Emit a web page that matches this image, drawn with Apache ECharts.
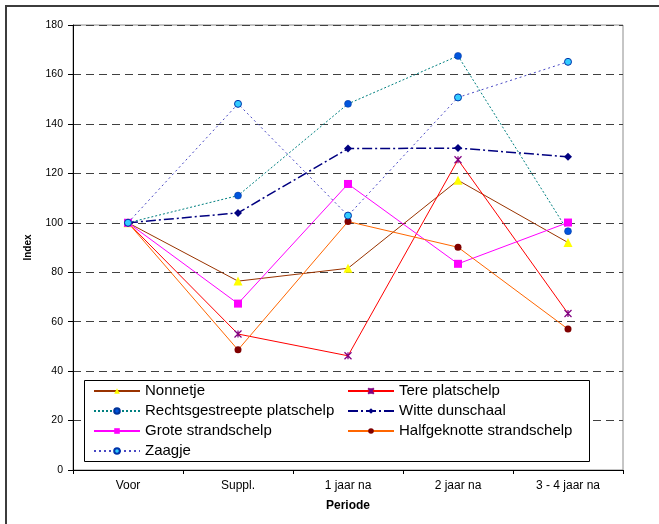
<!DOCTYPE html>
<html>
<head>
<meta charset="utf-8">
<script src="https://cdn.jsdelivr.net/npm/echarts@6/dist/echarts.min.js"></script>
<style>
  html, body { margin: 0; padding: 0; background: #ffffff; }
  #chart { width: 659px; height: 524px; }
</style>
</head>
<body>
<div id="chart"></div>
<script>
// Periods on the horizontal axis
const periodes = ['Voor', 'Suppl.', '1 jaar na', '2 jaar na', '3 - 4 jaar na'];

// Index per species (Voor = 100)
const nonnetje = [100, 76.4, 81.6, 117.2, 92.0];
const terePlatschelp = [100, 55.0, 46.2, 125.5, 63.3];
const rechtsgestreeptePlatschelp = [100, 111.0, 148.1, 167.5, 96.6];
const witteDunschaal = [100, 104.0, 130.0, 130.2, 126.7];
const groteStrandschelp = [100, 67.3, 115.7, 83.4, 100.1];
const halfgeknotteStrandschelp = [100, 48.6, 100.5, 90.1, 57.0];
const zaagje = [100, 148.1, 102.9, 150.7, 165.1];

// Y axis ticks
const yMin = 0, yMax = 180, yStep = 20;

const FONT = '"Liberation Sans", Arial, sans-serif';
const STAR = 'path://M0,0L10,10M10,0L0,10M5,0L5,10';

function lineSeries(name, data, line, marker) {
  return {
    name: name,
    type: 'line',
    data: data,
    symbol: marker.symbol,
    symbolSize: marker.size,
    showAllSymbol: true,
    lineStyle: { color: line.color, width: line.width || 1, type: line.type || 'solid' },
    itemStyle: {
      color: marker.fill,
      borderColor: marker.stroke || marker.fill,
      borderWidth: marker.strokeWidth || 0
    },
    emphasis: { disabled: true },
    animation: false
  };
}

const series = [
  lineSeries('Nonnetje', nonnetje,
    { color: '#993300' }, { symbol: 'triangle', size: 9, fill: '#ffff00' }),
  lineSeries('Tere platschelp', terePlatschelp,
    { color: '#ff0000' }, { symbol: STAR, size: 7, fill: 'rgba(0,0,0,0)', stroke: '#800080', strokeWidth: 1.2 }),
  lineSeries('Rechtsgestreepte platschelp', rechtsgestreeptePlatschelp,
    { color: '#008080', type: [2, 2] }, { symbol: 'circle', size: 7, fill: '#0055dd', stroke: '#003399', strokeWidth: 0.5 }),
  lineSeries('Witte dunschaal', witteDunschaal,
    { color: '#000080', width: 1.5, type: [10, 3, 2, 3] }, { symbol: 'diamond', size: 8, fill: '#000080' }),
  lineSeries('Grote strandschelp', groteStrandschelp,
    { color: '#ff00ff' }, { symbol: 'rect', size: 8, fill: '#ff00ff' }),
  lineSeries('Halfgeknotte strandschelp', halfgeknotteStrandschelp,
    { color: '#ff6600' }, { symbol: 'circle', size: 7, fill: '#800000' }),
  lineSeries('Zaagje', zaagje,
    { color: '#4848c4', type: [2, 3] }, { symbol: 'circle', size: 7, fill: '#33ccff', stroke: '#0033aa', strokeWidth: 1 })
];

const legendText = { fontFamily: FONT, fontSize: 15, color: '#000', lineHeight: 20 };
const legendBase = {
  orient: 'vertical',
  itemWidth: 46,
  itemHeight: 7,
  itemGap: 0,
  padding: 0,
  selectedMode: false,
  textStyle: legendText,
  z: 10
};

const chart = echarts.init(document.getElementById('chart'), null, { renderer: 'canvas' });
chart.setOption({
  backgroundColor: '#ffffff',
  animation: false,
  grid: {
    left: 73, top: 25, right: 36, bottom: 54,
    show: true, borderColor: '#8c8c8c', borderWidth: 1, backgroundColor: 'transparent'
  },
  xAxis: {
    type: 'category',
    data: periodes,
    boundaryGap: true,
    name: 'Periode',
    nameLocation: 'middle',
    nameGap: 30,
    nameTextStyle: { fontFamily: FONT, fontSize: 12, fontWeight: 'bold', color: '#000' },
    axisLine: { lineStyle: { color: '#000', width: 1 } },
    axisTick: { show: true, length: 4, lineStyle: { color: '#000' } },
    axisLabel: { fontFamily: FONT, fontSize: 12, color: '#000', margin: 10 },
    splitLine: { show: false }
  },
  yAxis: {
    type: 'value',
    min: yMin, max: yMax, interval: yStep,
    name: 'Index',
    nameLocation: 'middle',
    nameRotate: 90,
    nameGap: 40,
    nameTextStyle: { fontFamily: FONT, fontSize: 10, fontWeight: 'bold', color: '#000' },
    axisLine: { show: true, lineStyle: { color: '#000', width: 1 } },
    axisTick: { show: true, length: 5, lineStyle: { color: '#000' } },
    axisLabel: { fontFamily: FONT, fontSize: 10.5, color: '#000', margin: 10 },
    splitLine: { show: true, lineStyle: { color: '#404040', width: 1, type: [8, 5] } }
  },
  legend: [
    Object.assign({}, legendBase, {
      left: 93, top: 381,
      data: ['Nonnetje', 'Rechtsgestreepte platschelp', 'Grote strandschelp', 'Zaagje']
    }),
    Object.assign({}, legendBase, {
      left: 347, top: 381,
      data: ['Tere platschelp', 'Witte dunschaal', 'Halfgeknotte strandschelp']
    })
  ],
  graphic: [
    {
      type: 'rect', z: 5,
      shape: { x: 84.5, y: 380.5, width: 505, height: 81 },
      style: { fill: '#ffffff', stroke: '#000000', lineWidth: 1 }
    },
    {
      type: 'rect', z: 20,
      shape: { x: 6, y: 6, width: 720, height: 620 },
      style: { fill: 'none', stroke: '#3c3c3c', lineWidth: 2 }
    }
  ],
  series: series
});
</script>
</body>
</html>
